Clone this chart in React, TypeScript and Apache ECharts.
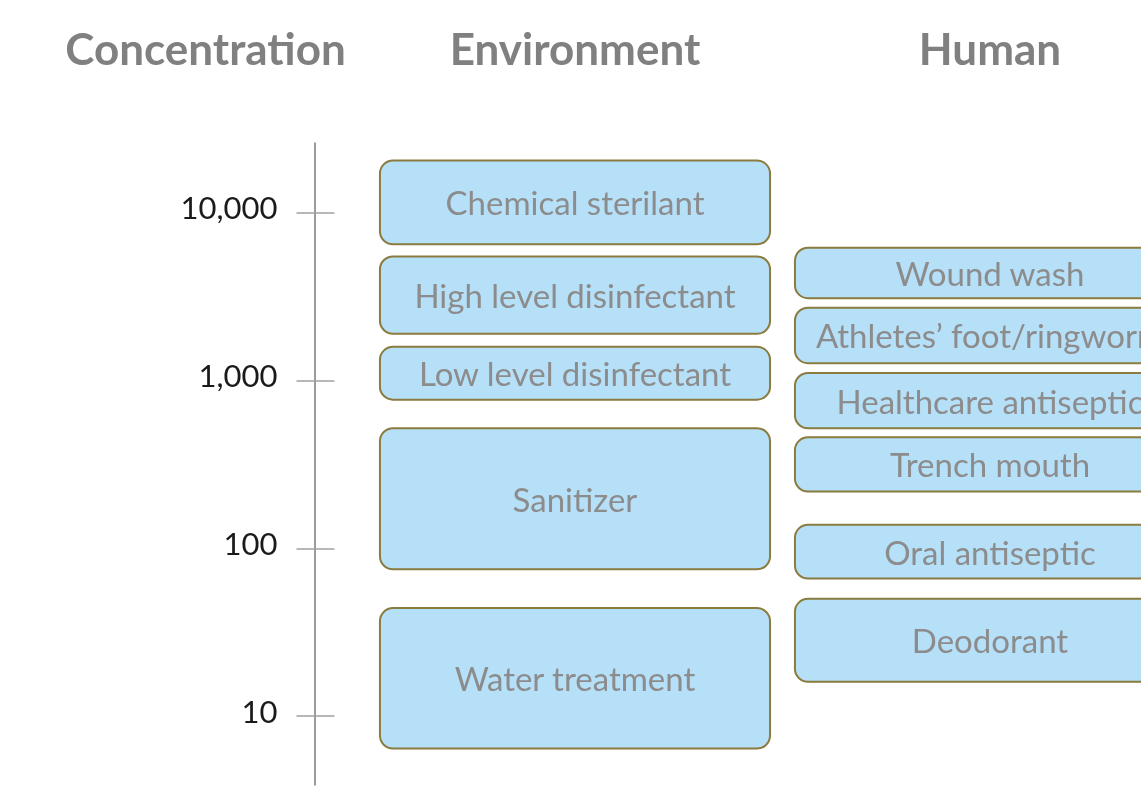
import React, { useEffect, useRef } from "react";
import * as echarts from "echarts";

const columns = ["Environment", "Human"];
const columnCenters = [0.5, 1.5];
const axisTitle = "Concentration";
const tickValues = [10, 100, 1000, 10000];
const axisMin = 3.88;
const axisMax = 26100;

const environmentLabels = [
  "Chemical sterilant",
  "High level disinfectant",
  "Low level disinfectant",
  "Sanitizer",
  "Water treatment",
];
const environmentLow = [6500, 1900, 770, 75, 6.4];
const environmentHigh = [20500, 5500, 1590, 520, 44];

const humanLabels = [
  "Wound wash",
  "Athletes\u2019 foot/ringworm",
  "Healthcare antiseptic",
  "Trench mouth",
  "Oral antiseptic",
  "Deodorant",
];
const humanLow = [3100, 1270, 520, 218, 66, 16];
const humanHigh = [6200, 2720, 1110, 459, 138, 50];

const FONT = "Lato, 'Open Sans', sans-serif";

export default function App() {
  const ref = useRef<HTMLDivElement>(null);
  useEffect(() => {
    if (!ref.current) return;
    const chart = echarts.init(ref.current, null, { renderer: "svg" });

    const data: any[] = [];
    environmentLabels.forEach((name, i) =>
      data.push([columnCenters[0], environmentLow[i], environmentHigh[i], name])
    );
    humanLabels.forEach((name, i) =>
      data.push([columnCenters[1], humanLow[i], humanHigh[i], name])
    );

    const yBase: any = {
      type: "log",
      logBase: 10,
      min: axisMin,
      max: axisMax,
      position: "left",
      offset: 53,
      splitLine: { show: false },
      minorTick: { show: false },
    };

    chart.setOption({
      animation: false,
      grid: { left: 367.5, right: 0, top: 143, bottom: 1, containLabel: false },
      xAxis: {
        type: "value",
        min: 0,
        max: 1.8639,
        position: "top",
        axisLine: { show: false, onZero: false },
        axisTick: { show: false },
        axisLabel: {
          show: true,
          customValues: columnCenters,
          formatter: (v: number) => columns[columnCenters.indexOf(v)] ?? "",
          margin: 95,
          verticalAlign: "middle",
          fontFamily: FONT,
          fontWeight: "bold",
          fontSize: 44,
          color: "#808080",
        },
        splitLine: { show: false },
      },
      yAxis: [
        {
          ...yBase,
          axisLine: { show: true, onZero: false, lineStyle: { color: "#7a7a7a", width: 1.5 } },
          axisTick: {
            show: true,
            inside: false,
            length: 18,
            customValues: tickValues,
            lineStyle: { color: "#a0a0a0", width: 1.5 },
          },
          axisLabel: {
            show: true,
            customValues: tickValues,
            margin: 37,
            verticalAlign: "bottom",
            lineHeight: 11,
            fontFamily: FONT,
            fontSize: 31,
            color: "#1a1a1a",
            formatter: (v: number) => Math.round(v).toLocaleString("en-US"),
          },
        },
        {
          ...yBase,
          axisLine: { show: false, onZero: false },
          axisTick: {
            show: true,
            inside: true,
            length: 20,
            customValues: tickValues,
            lineStyle: { color: "#a0a0a0", width: 1.5 },
          },
          axisLabel: { show: false },
        },
      ],
      graphic: [
        {
          type: "text",
          x: 205.5,
          y: 48,
          style: {
            text: axisTitle,
            font: `bold 44px ${FONT}`,
            fill: "#808080",
            align: "center",
            verticalAlign: "middle",
          },
        },
      ],
      series: [
        {
          type: "custom",
          xAxisIndex: 0,
          yAxisIndex: 0,
          clip: false,
          data,
          renderItem: (params: any, api: any) => {
            const x = api.value(0);
            const low = api.value(1);
            const high = api.value(2);
            const label = data[params.dataIndex][3];
            const top = api.coord([x, high]);
            const bot = api.coord([x, low]);
            const bw = api.size([1, 0])[0] * 0.94;
            const left = top[0] - bw / 2;
            return {
              type: "group",
              children: [
                {
                  type: "rect",
                  shape: { x: left, y: top[1], width: bw, height: bot[1] - top[1], r: 13 },
                  style: { fill: "#b6dff8", stroke: "#8a7b3e", lineWidth: 2 },
                },
                {
                  type: "text",
                  x: top[0],
                  y: (top[1] + bot[1]) / 2,
                  style: {
                    text: label,
                    font: `33px ${FONT}`,
                    fill: "#8c8c8c",
                    align: "center",
                    verticalAlign: "middle",
                  },
                },
              ],
            };
          },
        },
      ],
    });
    return () => chart.dispose();
  }, []);
  return (
    <div
      ref={ref}
      style={{ position: "fixed", left: 0, top: 0, width: 1141, height: 786 }}
    />
  );
}
